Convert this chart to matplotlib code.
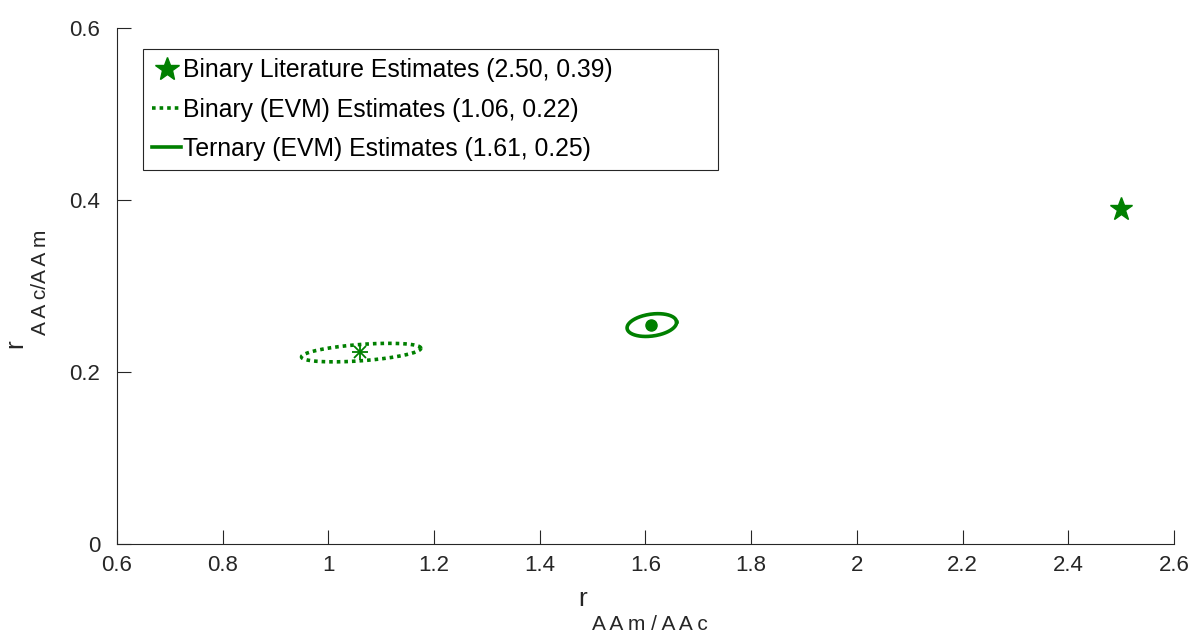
import numpy as np
import matplotlib.pyplot as plt
from matplotlib.lines import Line2D

plt.rcParams['font.family'] = ['Liberation Sans', 'DejaVu Sans']

green = '#008000'
axis_color = '#262626'

# Point estimates
lit_est = (2.50, 0.39)
binary_est = (1.06, 0.223)
ternary_est = (1.611, 0.2545)

# Confidence ellipses: center, semi-axis a, semi-axis b, tilt (data units)
binary_ell = dict(cx=1.062, cy=0.2225, a=0.113, b=0.0095, theta=0.045)
ternary_ell = dict(cx=1.612, cy=0.2545, a=0.047, b=0.0128, theta=0.075)

x_ticks = [0.6, 0.8, 1, 1.2, 1.4, 1.6, 1.8, 2, 2.2, 2.4, 2.6]
y_ticks = [0, 0.2, 0.4, 0.6]

legend_labels = ['Binary Literature Estimates (2.50, 0.39)',
                 'Binary (EVM) Estimates (1.06, 0.22)',
                 'Ternary (EVM) Estimates (1.61, 0.25)']


def ellipse_pts(cx, cy, a, b, theta, n=200):
    t = np.linspace(0, 2 * np.pi, n)
    x = cx + a * np.cos(t) * np.cos(theta) - b * np.sin(t) * np.sin(theta)
    y = cy + a * np.cos(t) * np.sin(theta) + b * np.sin(t) * np.cos(theta)
    return x, y


fig = plt.figure(figsize=(11.88, 6.34), dpi=100)
ax = fig.add_axes([0.0985, 0.142, 0.8897, 0.814])

ex, ey = ellipse_pts(**binary_ell)
ax.plot(ex, ey, linestyle=(0, (1, 1.1)), color=green, linewidth=2.6)
ax.plot(*binary_est, marker='x', markersize=8, color=green, linestyle='none', markeredgewidth=1.3)
ax.plot(*binary_est, marker='+', markersize=11, color=green, linestyle='none', markeredgewidth=1.3)

ex, ey = ellipse_pts(**ternary_ell)
ax.plot(ex, ey, '-', color=green, linewidth=2.6)
ax.plot(*ternary_est, 'o', color=green, markersize=8)

ax.plot(*lit_est, '*', color=green, markersize=17)

ax.set_xlim(0.6, 2.6)
ax.set_ylim(0, 0.6)
ax.set_xticks(x_ticks)
ax.set_xticklabels([f'{v:g}' for v in x_ticks])
ax.set_yticks(y_ticks)
ax.set_yticklabels([f'{v:g}' for v in y_ticks])
ax.tick_params(direction='in', length=10, width=0.8, colors=axis_color, labelsize=16, labelcolor='#262626')
ax.tick_params(axis='x', pad=8)
ax.tick_params(axis='y', pad=12)
for s in ['top', 'right']:
    ax.spines[s].set_visible(False)
for s in ['left', 'bottom']:
    ax.spines[s].set_color(axis_color)
    ax.spines[s].set_linewidth(0.8)

handles = [Line2D([], [], marker='*', color=green, markersize=18, linestyle='none'),
           Line2D([], [], color=green, linewidth=2.6, linestyle=(0, (1, 1.1))),
           Line2D([], [], color=green, linewidth=2.6, linestyle='-')]
leg = ax.legend(handles, legend_labels, loc='upper left',
                bbox_to_anchor=(0.0246, 0.0, 0.544, 0.959), mode='expand',
                borderaxespad=0, fontsize=17.8, frameon=True, fancybox=False,
                handlelength=1.15, handletextpad=0.08, labelspacing=0.62,
                borderpad=0.38, framealpha=1)
leg.get_frame().set_edgecolor(axis_color)
leg.get_frame().set_linewidth(0.8)

# axis labels: "r" with spaced subscript
fig.text(583 / 1188, 1 - 599 / 634, 'r', fontsize=19, ha='center', va='center', color='#262626')
fig.text(650 / 1188, 1 - 625 / 634, 'A A m / A A c', fontsize=15, ha='center', va='center', color='#262626')
fig.text(15 / 1188, 1 - 344 / 634, 'r', fontsize=19, ha='center', va='center', rotation=90, color='#262626')
fig.text(40 / 1188, 1 - 282 / 634, 'A A c/A A m', fontsize=15, ha='center', va='center', rotation=90, color='#262626')

plt.savefig('out.png', dpi=100)
plt.close()
